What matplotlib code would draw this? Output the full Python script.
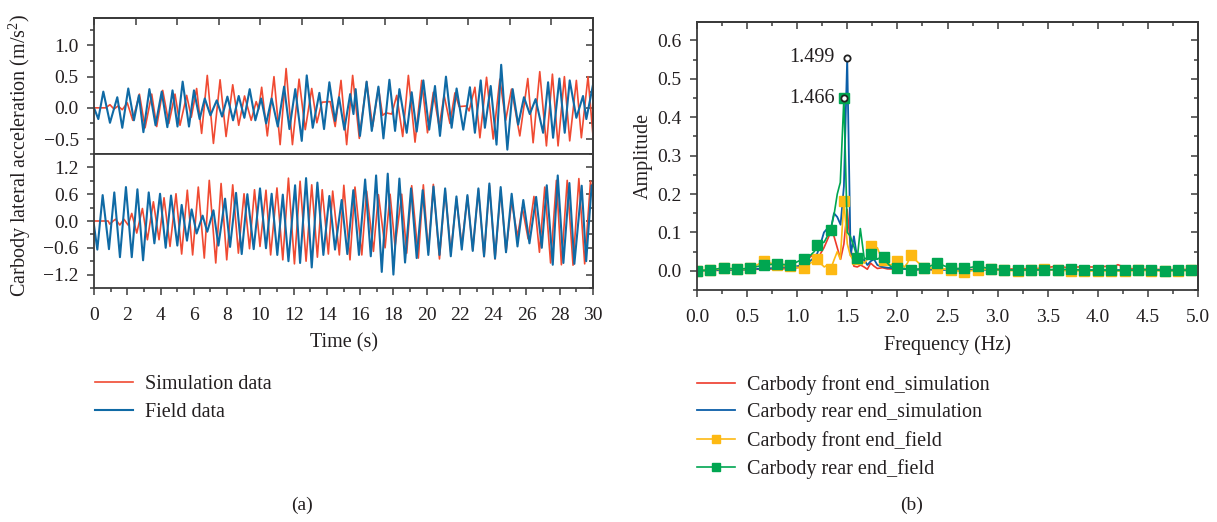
import matplotlib
matplotlib.use('Agg')
import matplotlib.pyplot as plt
from matplotlib.ticker import MultipleLocator, NullFormatter

plt.rcParams['font.family'] = ['Liberation Serif', 'DejaVu Serif']
plt.rcParams['mathtext.fontset'] = 'custom'
plt.rcParams['mathtext.rm'] = 'Liberation Serif'
plt.rcParams['mathtext.it'] = 'Liberation Serif:italic'

# ---------------- data: (a) time histories, extrema (time s, accel m/s^2) ----------------
front_sim = [(0.00, 0.00), (0.70, 0.00), (0.96, 0.05), (1.20, -0.02), (1.45, 0.03), (1.70, -0.03),
             (2.00, 0.08), (2.33, -0.20), (2.73, 0.22), (3.07, -0.32), (3.47, 0.22), (3.77, -0.30),
             (4.13, 0.28), (4.50, -0.25), (4.87, 0.22), (5.17, -0.28), (5.57, 0.20), (5.85, -0.15),
             (6.17, 0.31), (6.47, -0.41), (6.81, 0.52), (7.18, -0.57), (7.58, 0.45), (7.94, -0.46),
             (8.34, 0.37), (8.70, -0.28), (9.05, 0.19), (9.45, -0.20), (9.75, 0.10), (9.90, -0.02),
             (10.08, 0.33), (10.42, -0.45), (10.82, 0.50), (11.19, -0.59), (11.55, 0.63), (11.93, -0.59),
             (12.33, 0.46), (12.70, -0.35), (13.09, 0.31), (13.40, -0.24), (13.70, 0.09), (14.20, 0.10),
             (14.50, -0.30), (14.85, 0.44), (15.19, -0.59), (15.55, 0.52), (15.95, -0.49), (16.39, 0.42),
             (16.75, -0.30), (17.10, 0.32), (17.35, -0.12), (17.55, -0.08), (17.90, -0.10), (18.20, 0.20),
             (18.56, -0.46), (18.90, 0.52), (19.30, -0.55), (19.70, 0.44), (20.05, -0.40), (20.40, 0.25),
             (20.75, -0.30), (21.05, 0.20), (21.40, -0.25), (21.70, 0.24), (21.95, 0.02), (22.40, 0.03),
             (22.55, -0.05), (22.90, 0.33), (23.20, -0.48), (23.60, 0.49), (24.00, -0.50), (24.40, 0.46),
             (24.75, -0.20), (25.10, 0.30), (25.60, -0.45), (26.08, 0.47), (26.40, -0.56), (26.80, 0.58),
             (27.20, -0.61), (27.56, 0.54), (27.90, -0.61), (28.28, 0.50), (28.60, -0.53), (29.00, 0.44),
             (29.30, -0.48), (29.70, 0.50), (30.00, -0.45)]

front_field = [(0.00, 0.00), (0.26, -0.18), (0.56, 0.26), (0.96, -0.24), (1.40, 0.17), (1.70, -0.32),
               (2.06, 0.31), (2.40, -0.20), (2.70, 0.20), (2.97, -0.39), (3.33, 0.30), (3.70, -0.28),
               (4.07, 0.26), (4.41, -0.31), (4.72, 0.28), (5.02, -0.30), (5.33, 0.42), (5.71, -0.30),
               (6.01, 0.28), (6.35, -0.18), (6.66, 0.15), (7.00, -0.12), (7.38, 0.12), (7.70, -0.14),
               (8.02, 0.18), (8.36, -0.20), (8.70, 0.19), (9.04, -0.16), (9.36, 0.30), (9.70, -0.20),
               (10.05, 0.15), (10.35, -0.25), (10.68, 0.15), (11.05, -0.30), (11.43, 0.34), (11.75, -0.34),
               (12.10, 0.30), (12.49, -0.53), (12.79, 0.52), (13.15, -0.32), (13.55, 0.24), (13.83, -0.34),
               (14.15, 0.41), (14.49, -0.21), (14.73, 0.17), (15.05, -0.35), (15.40, 0.22), (15.60, -0.10),
               (15.73, 0.30), (15.99, -0.45), (16.39, 0.42), (16.70, -0.37), (17.10, 0.34), (17.40, -0.49),
               (17.76, 0.45), (18.10, -0.37), (18.36, 0.30), (18.80, -0.40), (19.10, 0.25), (19.40, -0.38),
               (19.80, 0.44), (20.15, -0.35), (20.50, 0.35), (20.80, -0.45), (21.16, 0.50), (21.50, -0.32),
               (21.80, 0.31), (22.20, -0.35), (22.60, 0.33), (22.90, -0.40), (23.25, 0.44), (23.50, -0.32),
               (23.85, 0.35), (24.20, -0.59), (24.48, 0.69), (24.85, -0.67), (25.17, 0.30), (25.50, -0.27),
               (25.85, 0.17), (26.20, -0.10), (26.55, 0.14), (27.00, -0.40), (27.30, 0.41), (27.60, -0.48),
               (27.98, 0.47), (28.30, -0.40), (28.60, 0.44), (29.00, -0.16), (29.40, 0.19), (29.60, -0.18),
               (30.00, 0.37)]

rear_sim = [(0.00, 0.00), (0.85, 0.00), (0.95, -0.07), (1.15, 0.00), (1.30, 0.04), (1.55, -0.09),
            (1.80, 0.04), (2.05, -0.09), (2.27, 0.17), (2.57, -0.27), (2.91, 0.28), (3.21, -0.42),
            (3.57, 0.43), (3.91, -0.42), (4.21, 0.52), (4.57, -0.57), (4.93, 0.61), (5.27, -0.74),
            (5.61, 0.69), (5.93, -0.76), (6.27, 0.76), (6.63, -0.83), (6.93, 0.91), (7.32, -0.94),
            (7.64, 0.84), (7.98, -0.87), (8.34, 0.81), (8.68, -0.72), (9.02, 0.61), (9.35, -0.62),
            (9.65, 0.70), (9.98, -0.57), (10.34, 0.69), (10.62, -0.76), (11.00, 0.74), (11.35, -0.87),
            (11.69, 0.96), (12.05, -0.96), (12.39, 0.89), (12.75, -0.90), (13.09, 0.81), (13.43, -0.81),
            (13.72, 0.70), (14.09, -0.74), (14.35, 0.67), (14.75, -0.76), (15.02, 0.80), (15.39, -0.87),
            (15.69, 0.76), (16.10, -0.76), (16.39, 0.67), (16.80, -0.68), (17.10, 0.59), (17.50, -0.60),
            (17.80, 0.60), (18.10, -0.57), (18.50, 0.60), (18.80, -0.72), (19.10, 0.79), (19.50, -0.83),
            (19.80, 0.81), (20.10, -0.70), (20.40, 0.82), (20.77, -0.85), (21.11, 0.70), (21.45, -0.70),
            (21.79, 0.50), (22.11, -0.55), (22.45, 0.55), (22.77, -0.65), (23.11, 0.70), (23.45, -0.80),
            (23.77, 0.80), (24.11, -0.85), (24.45, 0.70), (24.77, -0.70), (25.11, 0.45), (25.46, -0.35),
            (25.75, 0.30), (26.10, -0.40), (26.45, 0.55), (26.78, -0.70), (27.10, 0.76), (27.45, -0.94),
            (27.80, 0.91), (28.10, -0.98), (28.45, 0.91), (28.80, -0.99), (29.15, 0.95), (29.50, -0.96),
            (29.85, 0.89), (30.00, 0.50)]

rear_field = [(0.00, -0.10), (0.20, -0.64), (0.52, 0.58), (0.90, -0.63), (1.22, 0.64), (1.56, -0.81),
              (1.92, 0.76), (2.27, -0.81), (2.61, 0.71), (2.95, -0.88), (3.29, 0.64), (3.63, -0.50),
              (3.97, 0.61), (4.31, -0.60), (4.63, 0.57), (5.01, -0.55), (5.27, 0.36), (5.59, -0.44),
              (5.87, 0.26), (6.17, -0.28), (6.53, 0.12), (6.81, -0.24), (7.18, 0.24), (7.48, -0.55),
              (7.88, 0.50), (8.18, -0.58), (8.54, 0.63), (8.88, -0.74), (9.22, 0.60), (9.60, -0.63),
              (9.98, 0.73), (10.34, -0.61), (10.68, 0.61), (11.02, -0.76), (11.35, 0.59), (11.69, -0.90),
              (12.09, 0.80), (12.39, -0.94), (12.75, 0.96), (13.09, -1.04), (13.43, 0.86), (13.79, -0.76),
              (14.15, 0.56), (14.49, -0.64), (14.89, 0.47), (15.23, -0.74), (15.59, 0.69), (15.93, -0.76),
              (16.30, 0.93), (16.64, -0.79), (16.96, 1.02), (17.30, -1.14), (17.66, 1.06), (18.00, -1.20),
              (18.36, 0.95), (18.70, -0.93), (19.06, 0.73), (19.40, -0.83), (19.76, 0.69), (20.10, -0.76),
              (20.41, 0.77), (20.77, -0.76), (21.11, 0.73), (21.45, -0.79), (21.79, 0.55), (22.11, -0.64),
              (22.45, 0.58), (22.77, -0.67), (23.11, 0.73), (23.45, -0.79), (23.77, 0.84), (24.11, -0.84),
              (24.45, 0.76), (24.77, -0.70), (25.11, 0.61), (25.46, -0.57), (25.81, 0.47), (26.18, -0.50),
              (26.58, 0.54), (26.92, -0.60), (27.22, 0.80), (27.58, -0.98), (27.88, 1.02), (28.22, -0.94),
              (28.58, 0.85), (28.88, -0.96), (29.32, 0.79), (29.59, -0.90), (29.92, 0.80), (30.00, 0.70)]

legend_a = ['Simulation data', 'Field data']

# ---------------- data: (b) amplitude spectra ----------------
sim_freq = [0.0, 0.1, 0.2, 0.3, 0.4, 0.5, 0.6, 0.7, 0.8, 0.9, 1.0, 1.05, 1.1, 1.15, 1.2,
            1.233, 1.267, 1.3, 1.333, 1.367, 1.4, 1.433, 1.466, 1.499, 1.533, 1.566, 1.6, 1.633,
            1.667, 1.7, 1.733, 1.767, 1.8, 1.85, 1.9, 2.0, 2.1, 2.2, 2.3, 2.4, 2.5, 2.6, 2.7, 2.8,
            2.9, 3.0, 3.2, 3.4, 3.6, 3.7, 3.8, 4.0, 4.1, 4.15, 4.2, 4.3, 4.5, 4.7, 5.0]
front_sim_amp = [0.000, 0.001, 0.001, 0.002, 0.002, 0.003, 0.004, 0.005, 0.004, 0.006, 0.008, 0.012,
                 0.030, 0.040, 0.020, 0.045, 0.060, 0.080, 0.100, 0.090, 0.060, 0.030, 0.070, 0.160,
                 0.060, 0.012, 0.010, 0.015, 0.010, 0.004, 0.020, 0.012, 0.006, 0.008, 0.005, 0.004,
                 0.006, 0.003, 0.004, 0.003, 0.004, 0.005, 0.003, 0.004, 0.003, 0.004, 0.005, 0.006,
                 0.012, 0.008, 0.010, 0.010, 0.012, 0.008, 0.016, 0.006, 0.004, 0.003, 0.004]
rear_sim_amp = [0.000, 0.001, 0.002, 0.002, 0.003, 0.003, 0.005, 0.006, 0.008, 0.010, 0.012, 0.015,
                0.020, 0.030, 0.045, 0.070, 0.100, 0.110, 0.105, 0.150, 0.140, 0.120, 0.220, 0.555,
                0.040, 0.090, 0.030, 0.020, 0.030, 0.015, 0.025, 0.030, 0.015, 0.010, 0.008, 0.006,
                0.004, 0.003, 0.003, 0.003, 0.002, 0.002, 0.002, 0.002, 0.002, 0.002, 0.002, 0.002,
                0.003, 0.002, 0.002, 0.002, 0.002, 0.002, 0.002, 0.002, 0.002, 0.002, 0.002]

field_mark_freq = [0.0, 0.133, 0.267, 0.4, 0.533, 0.667, 0.8, 0.933, 1.067, 1.2, 1.333, 1.466,
                   1.6, 1.733, 1.867, 2.0, 2.133, 2.267, 2.4, 2.533, 2.667, 2.8, 2.933, 3.067,
                   3.2, 3.333, 3.467, 3.6, 3.733, 3.867, 4.0, 4.133, 4.267, 4.4, 4.533, 4.667, 4.8, 4.933]
front_field_mark = [0.000, 0.002, 0.006, 0.004, 0.006, 0.025, 0.015, 0.012, 0.006, 0.030, 0.004, 0.182,
                    0.030, 0.065, 0.028, 0.025, 0.040, 0.007, 0.007, 0.002, -0.003, 0.003, 0.004, 0.001,
                    0.000, 0.002, 0.005, 0.001, 0.000, 0.000, -0.001, 0.000, -0.001, 0.001, 0.000, 0.000,
                    0.000, 0.001]
rear_field_mark = [0.000, 0.002, 0.008, 0.004, 0.007, 0.015, 0.018, 0.015, 0.032, 0.066, 0.105, 0.450,
                   0.033, 0.045, 0.037, 0.008, 0.003, 0.006, 0.020, 0.006, 0.006, 0.012, 0.005, 0.002,
                   0.002, 0.002, 0.003, 0.003, 0.004, 0.001, 0.002, 0.001, 0.001, 0.002, 0.003, 0.000,
                   0.001, 0.001]
field_extra_freq = [1.10, 1.13, 1.17, 1.23, 1.27, 1.30, 1.37, 1.40, 1.43, 1.50, 1.53, 1.57, 1.63,
                    1.67, 1.70, 1.77, 1.80, 1.83, 1.90, 1.93, 1.97, 2.07, 2.10, 5.0]
front_field_extra = [0.015, 0.020, 0.025, 0.020, 0.010, 0.015, 0.030, 0.050, 0.030, 0.070, 0.040, 0.025,
                     0.030, 0.020, 0.030, 0.050, 0.060, 0.040, 0.020, 0.015, 0.020, 0.010, 0.020, 0.002]
rear_field_extra = [0.035, 0.040, 0.050, 0.070, 0.075, 0.090, 0.150, 0.200, 0.230, 0.100, 0.090, 0.060,
                    0.110, 0.030, 0.035, 0.040, 0.030, 0.035, 0.020, 0.012, 0.010, 0.006, 0.004, 0.002]

legend_b = ['Carbody front end_simulation', 'Carbody rear end_simulation',
            'Carbody front end_field', 'Carbody rear end_field']
peak_labels = [(1.499, 0.555, '1.499'), (1.466, 0.450, '1.466')]

# ---------------- styling ----------------
RED_A, BLUE_A = '#f04a32', '#0f6aa5'
RED_B, BLUE_B, YEL_B, GRN_B = '#ee3a2a', '#0b5ea8', '#fdb913', '#00a651'
INK = '#231f20'
SPINE = '#3a3a3a'
TICK_FS = 14
LABEL_FS = 14.5

W, H = 1217, 522
fig = plt.figure(figsize=(W / 100, H / 100), dpi=100)


def box(l, t, r, b):
    return [l / W, 1 - b / H, (r - l) / W, (b - t) / H]


def spines(ax):
    for s in ax.spines.values():
        s.set_color(SPINE)
        s.set_linewidth(1.3)


def mirror_y(ax, maj, mnr):
    sy = ax.secondary_yaxis('right')
    sy.yaxis.set_major_locator(MultipleLocator(maj))
    sy.yaxis.set_minor_locator(MultipleLocator(mnr))
    sy.yaxis.set_major_formatter(NullFormatter())
    sy.tick_params(which='both', direction='in', color=SPINE, width=1.1)
    sy.tick_params(which='major', length=5)
    sy.tick_params(which='minor', length=3)
    sy.spines['right'].set_color(SPINE)
    sy.spines['right'].set_linewidth(1.3)


def mirror_x(ax, maj, mnr=None):
    sx = ax.secondary_xaxis('top')
    sx.xaxis.set_major_locator(MultipleLocator(maj))
    if mnr:
        sx.xaxis.set_minor_locator(MultipleLocator(mnr))
    sx.xaxis.set_major_formatter(NullFormatter())
    sx.tick_params(which='both', direction='in', color=SPINE, width=1.1)
    sx.tick_params(which='major', length=5)
    sx.tick_params(which='minor', length=3)
    sx.spines['top'].set_color(SPINE)
    sx.spines['top'].set_linewidth(1.3)


def base_ticks(ax):
    ax.tick_params(which='both', direction='out', color=SPINE, width=1.1,
                   labelsize=TICK_FS, labelcolor=INK, right=False, top=False)
    ax.tick_params(which='major', length=5)
    ax.tick_params(which='minor', length=3)
    ax.tick_params(axis='x', which='major', pad=9)
    ax.tick_params(axis='y', which='major', pad=6)


# ---------- (a) top: front end ----------
ax_top = fig.add_axes(box(94, 18, 593, 154))
ax_top.plot([p[0] for p in front_sim], [p[1] for p in front_sim], color=RED_A, lw=1.2,
            solid_joinstyle='round')
ax_top.plot([p[0] for p in front_field], [p[1] for p in front_field], color=BLUE_A, lw=1.5,
            solid_joinstyle='round')
ax_top.set_xlim(0, 30)
ax_top.set_ylim(-0.74, 1.44)
ax_top.yaxis.set_major_locator(MultipleLocator(0.5))
ax_top.yaxis.set_minor_locator(MultipleLocator(0.25))
base_ticks(ax_top)
ax_top.tick_params(axis='x', which='both', bottom=False, labelbottom=False)
spines(ax_top)
mirror_y(ax_top, 0.5, 0.25)
mirror_x(ax_top, 2.5)

# ---------- (a) bottom: rear end ----------
ax_bot = fig.add_axes(box(94, 154, 593, 288))
l_sim, = ax_bot.plot([p[0] for p in rear_sim], [p[1] for p in rear_sim], color=RED_A, lw=1.2,
                     solid_joinstyle='round')
l_fld, = ax_bot.plot([p[0] for p in rear_field], [p[1] for p in rear_field], color=BLUE_A, lw=1.5,
                     solid_joinstyle='round')
ax_bot.set_xlim(0, 30)
ax_bot.set_ylim(-1.5, 1.5)
ax_bot.xaxis.set_major_locator(MultipleLocator(2))
ax_bot.xaxis.set_minor_locator(MultipleLocator(1))
ax_bot.yaxis.set_major_locator(MultipleLocator(0.6))
ax_bot.yaxis.set_minor_locator(MultipleLocator(0.3))
base_ticks(ax_bot)
spines(ax_bot)
mirror_y(ax_bot, 0.6, 0.3)
ax_bot.set_xlabel('Time (s)', fontsize=LABEL_FS, color=INK, labelpad=6)

fig.text(20 / W, 1 - 155 / H, 'Carbody lateral acceleration (m/s$^{2}$)', rotation=90,
         ha='center', va='center', fontsize=LABEL_FS, color=INK)

fig.legend([l_sim, l_fld], legend_a, loc='upper left', bbox_to_anchor=(95 / W, 1 - 375 / H),
           frameon=False, fontsize=14.5, handlelength=1.9, handletextpad=0.6,
           labelspacing=0.45, borderpad=0, borderaxespad=0, labelcolor=INK)
fig.text(302 / W, 1 - 505 / H, '(a)', ha='center', va='center', fontsize=14, color=INK)

# ---------- (b) spectra ----------
ax_f = fig.add_axes(box(697, 22, 1198, 290))
h1, = ax_f.plot(sim_freq, front_sim_amp, color=RED_B, lw=1.2)
h2, = ax_f.plot(sim_freq, rear_sim_amp, color=BLUE_B, lw=1.3)


def merged(extra_amp, mark_amp):
    pts = sorted(list(zip(field_mark_freq, mark_amp)) + list(zip(field_extra_freq, extra_amp)))
    fs = [p[0] for p in pts]
    amps = [p[1] for p in pts]
    idx = [fs.index(f) for f in field_mark_freq]
    return fs, amps, idx


fy, ay, iy = merged(front_field_extra, front_field_mark)
h3, = ax_f.plot(fy, ay, color=YEL_B, lw=1.2, marker='s', markersize=7.5, markevery=iy,
                markerfacecolor=YEL_B, markeredgecolor=YEL_B)
fg, ag, ig = merged(rear_field_extra, rear_field_mark)
h4, = ax_f.plot(fg, ag, color=GRN_B, lw=1.2, marker='s', markersize=7.5, markevery=ig,
                markerfacecolor=GRN_B, markeredgecolor=GRN_B)

for fx, fa, txt in peak_labels:
    ax_f.plot([fx], [fa], marker='o', markersize=4.5, markerfacecolor='white',
              markeredgecolor='#222222', markeredgewidth=1.3, zorder=6)
    ax_f.text(1.375, fa, txt, ha='right', va='center', fontsize=14.5, color=INK)

ax_f.set_xlim(0, 5.0)
ax_f.set_ylim(-0.05, 0.648)
ax_f.xaxis.set_major_locator(MultipleLocator(0.5))
ax_f.xaxis.set_minor_locator(MultipleLocator(0.25))
ax_f.yaxis.set_major_locator(MultipleLocator(0.1))
ax_f.yaxis.set_minor_locator(MultipleLocator(0.05))
base_ticks(ax_f)
spines(ax_f)
mirror_y(ax_f, 0.1, 0.05)
mirror_x(ax_f, 0.5, 0.25)
ax_f.set_xlabel('Frequency (Hz)', fontsize=LABEL_FS, color=INK, labelpad=6)
ax_f.set_ylabel('Amplitude', fontsize=LABEL_FS, color=INK, labelpad=3)

fig.legend([h1, h2, h3, h4], legend_b, loc='upper left', bbox_to_anchor=(697 / W, 1 - 375 / H),
           frameon=False, fontsize=14.5, handlelength=1.9, handletextpad=0.6,
           labelspacing=0.42, borderpad=0, borderaxespad=0, labelcolor=INK, markerscale=0.85)
fig.text(912 / W, 1 - 505 / H, '(b)', ha='center', va='center', fontsize=14, color=INK)

fig.savefig('out.png', dpi=100)
